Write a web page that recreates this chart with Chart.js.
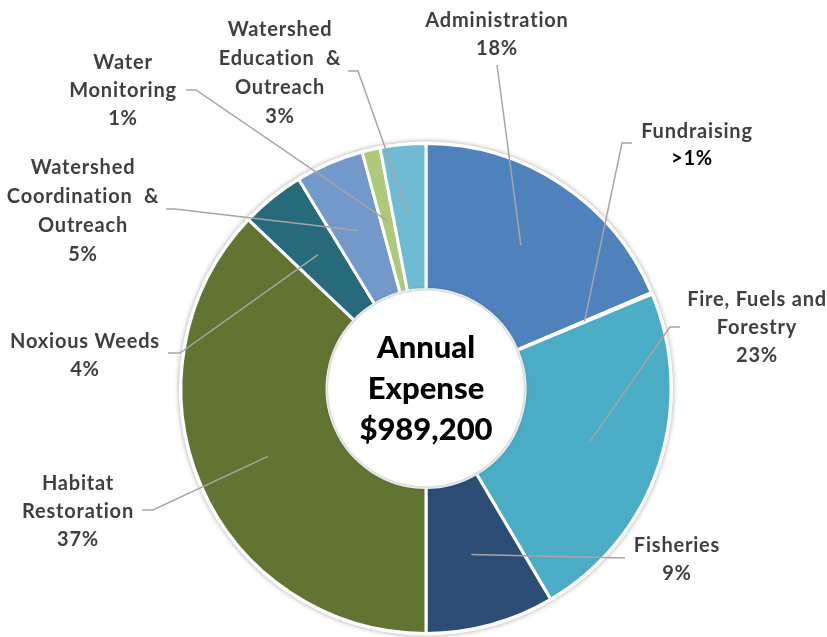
<!DOCTYPE html>
<html lang="en">
<head>
<meta charset="UTF-8">
<title>Annual Expense</title>
<script src="https://cdn.jsdelivr.net/npm/chart.js"></script>
<style>
  body { margin: 0; background: #fff; }
  #wrap { width: 827px; height: 637px; }
</style>
</head>
<body>
<div id="wrap"><canvas id="expenseChart" width="827" height="637"></canvas></div>
<script>
// data (share of annual expense, %)
const categories = ['Administration', 'Fundraising', 'Fire, Fuels and Forestry', 'Fisheries',
  'Habitat Restoration', 'Noxious Weeds', 'Watershed Coordination & Outreach',
  'Water Monitoring', 'Watershed Education & Outreach'];
const shares = [18.6, 0.1, 22.8, 8.5, 37.1, 4.2, 4.5, 1.2, 3.0];
const shareLabels = ['18%', '>1%', '23%', '9%', '37%', '4%', '5%', '1%', '3%'];
const centerLines = ['Annual', 'Expense', '$989,200'];

const colors = ['#4f81bd', '#c0504d', '#4bacc6', '#2c4d75', '#617431',
  '#276a7c', '#7399cb', '#afc97a', '#6fbbd3'];

// how each label is broken into lines and where it sits
const labelLines = [
  ['Administration'], ['Fundraising'], ['Fire, Fuels and', 'Forestry'], ['Fisheries'],
  ['Habitat', 'Restoration'], ['Noxious Weeds'], ['Watershed', 'Coordination  &', 'Outreach'],
  ['Water', 'Monitoring'], ['Watershed', 'Education  &', 'Outreach']
];
// x, first line y, line gap, leader start [x,y], elbow x (null = straight)
const labelPos = [
  {x: 497, y: 21, gap: 28, lead: [497, 65], elbow: null},
  {x: 697, y: 132, gap: 27, lead: [632, 143], elbow: 622, pctX: 692},
  {x: 757, y: 300, gap: 28, lead: [680, 327], elbow: 670},
  {x: 677, y: 546, gap: 28, lead: [625, 558], elbow: null},
  {x: 78, y: 484, gap: 28, lead: [142, 510], elbow: 153},
  {x: 85, y: 342, gap: 28, lead: [168, 353], elbow: 180},
  {x: 83, y: 168, gap: 29, lead: [166, 209], elbow: 175},
  {x: 123, y: 63, gap: 28, lead: [186, 90], elbow: 196},
  {x: 280, y: 30, gap: 29, lead: [348, 71], elbow: 358}
];

const ringShadow = {
  id: 'ringShadow',
  beforeDatasetsDraw(chart) {
    const arc = chart.getDatasetMeta(0).data[0];
    const ctx = chart.ctx;
    ctx.save();
    ctx.shadowColor = 'rgba(0,0,0,0.35)';
    ctx.shadowBlur = 5;
    ctx.fillStyle = '#fff';
    ctx.beginPath();
    ctx.arc(arc.x, arc.y, arc.outerRadius + 2, 0, Math.PI * 2);
    ctx.fill();
    ctx.restore();
  },
  afterDatasetsDraw(chart) {
    const arc = chart.getDatasetMeta(0).data[0];
    const ctx = chart.ctx;
    ctx.save();
    ctx.shadowColor = 'rgba(0,0,0,0.35)';
    ctx.shadowBlur = 5;
    ctx.fillStyle = '#fff';
    ctx.beginPath();
    ctx.arc(arc.x, arc.y, arc.innerRadius - 1, 0, Math.PI * 2);
    ctx.fill();
    ctx.shadowColor = 'transparent';
    ctx.fillStyle = '#000';
    ctx.font = '900 31px Lato';
    ctx.textAlign = 'center';
    ctx.textBaseline = 'middle';
    centerLines.forEach((t, i) => ctx.fillText(t, arc.x, arc.y - 41 + i * 41));
    ctx.restore();
  }
};

const calloutLabels = {
  id: 'calloutLabels',
  afterDraw(chart) {
    const ctx = chart.ctx;
    const arcs = chart.getDatasetMeta(0).data;
    ctx.save();
    // leader lines
    ctx.strokeStyle = '#a6a6a6';
    ctx.lineWidth = 1.5;
    arcs.forEach((arc, i) => {
      const p = labelPos[i];
      const end = arc.getCenterPoint();
      ctx.beginPath();
      ctx.moveTo(p.lead[0], p.lead[1]);
      if (p.elbow !== null) ctx.lineTo(p.elbow, p.lead[1]);
      ctx.lineTo(end.x, end.y);
      ctx.stroke();
    });
    // label text
    ctx.font = 'bold 20px Lato';
    ctx.letterSpacing = '0.8px';
    ctx.textAlign = 'center';
    ctx.textBaseline = 'middle';
    categories.forEach((c, i) => {
      const p = labelPos[i];
      const lines = labelLines[i];
      ctx.fillStyle = '#3f3f3f';
      lines.forEach((t, k) => ctx.fillText(t, p.x, p.y + k * p.gap));
      if (i === 1) ctx.fillStyle = '#000';
      ctx.fillText(shareLabels[i], p.pctX || p.x, p.y + lines.length * p.gap);
    });
    ctx.restore();
  }
};

new Chart(document.getElementById('expenseChart'), {
  type: 'doughnut',
  data: {
    labels: categories,
    datasets: [{
      data: shares,
      backgroundColor: colors,
      borderColor: '#ffffff',
      borderWidth: 3
    }]
  },
  options: {
    responsive: false,
    animation: false,
    radius: 245,
    cutout: '40.4%',
    layout: { padding: { left: 25, right: 0, top: 140, bottom: 0 } },
    plugins: {
      legend: { display: false },
      tooltip: { enabled: false }
    }
  },
  plugins: [ringShadow, calloutLabels]
});
</script>
</body>
</html>
